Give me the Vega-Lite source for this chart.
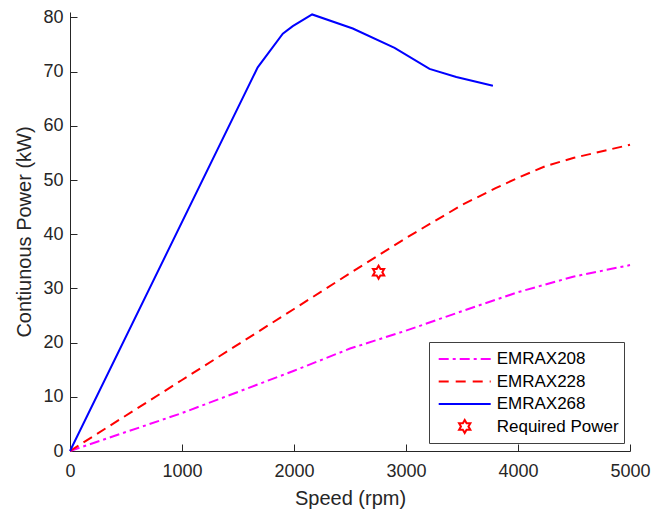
{
  "$schema": "https://vega.github.io/schema/vega-lite/v6.json",
  "width": 560,
  "height": 439,
  "autosize": {"type": "none"},
  "padding": {"left": 70, "top": 12, "right": 21, "bottom": 63},
  "background": "white",
  "config": {
    "view": {"stroke": null},
    "font": "Liberation Sans",
    "axis": {
      "grid": false,
      "domainColor": "#262626",
      "domainWidth": 1,
      "tickColor": "#262626",
      "tickWidth": 1,
      "labelFont": "Liberation Sans",
      "labelFontSize": 18,
      "labelColor": "#262626",
      "labelFlush": false,
      "labelOverlap": false,
      "titleFont": "Liberation Sans",
      "titleFontSize": 20,
      "titleFontWeight": "normal",
      "titleColor": "#262626"
    },
    "legend": {
      "labelFont": "Liberation Sans",
      "labelFontSize": 17,
      "labelColor": "#000000"
    }
  },
  "data": {
    "values": [
      {"series": "EMRAX208", "rpm": 0, "kW": 0},
      {"series": "EMRAX208", "rpm": 1000, "kW": 7.0},
      {"series": "EMRAX208", "rpm": 2000, "kW": 14.8},
      {"series": "EMRAX208", "rpm": 2500, "kW": 18.9},
      {"series": "EMRAX208", "rpm": 3000, "kW": 22.2},
      {"series": "EMRAX208", "rpm": 3500, "kW": 25.8},
      {"series": "EMRAX208", "rpm": 4000, "kW": 29.3},
      {"series": "EMRAX208", "rpm": 4500, "kW": 32.2},
      {"series": "EMRAX208", "rpm": 5000, "kW": 34.3},
      {"series": "EMRAX228", "rpm": 0, "kW": 0},
      {"series": "EMRAX228", "rpm": 1000, "kW": 13.1},
      {"series": "EMRAX228", "rpm": 2000, "kW": 26.2},
      {"series": "EMRAX228", "rpm": 2500, "kW": 32.8},
      {"series": "EMRAX228", "rpm": 3000, "kW": 39.3},
      {"series": "EMRAX228", "rpm": 3500, "kW": 45.4},
      {"series": "EMRAX228", "rpm": 3800, "kW": 48.5},
      {"series": "EMRAX228", "rpm": 4000, "kW": 50.4},
      {"series": "EMRAX228", "rpm": 4250, "kW": 52.6},
      {"series": "EMRAX228", "rpm": 4500, "kW": 54.1},
      {"series": "EMRAX228", "rpm": 5000, "kW": 56.5},
      {"series": "EMRAX268", "rpm": 0, "kW": 0},
      {"series": "EMRAX268", "rpm": 1676, "kW": 70.8},
      {"series": "EMRAX268", "rpm": 1900, "kW": 77.0},
      {"series": "EMRAX268", "rpm": 1989, "kW": 78.4},
      {"series": "EMRAX268", "rpm": 2162, "kW": 80.55},
      {"series": "EMRAX268", "rpm": 2525, "kW": 77.95},
      {"series": "EMRAX268", "rpm": 2898, "kW": 74.4},
      {"series": "EMRAX268", "rpm": 3210, "kW": 70.5},
      {"series": "EMRAX268", "rpm": 3449, "kW": 69.0},
      {"series": "EMRAX268", "rpm": 3776, "kW": 67.4},
      {"series": "Required Power", "rpm": 2755, "kW": 33.0}
    ]
  },
  "encoding": {
    "x": {
      "field": "rpm", "type": "quantitative",
      "scale": {"domain": [0, 5000], "nice": false},
      "axis": {"values": [0, 1000, 2000, 3000, 4000, 5000], "format": "d", "title": "Speed (rpm)", "tickSize": -7, "labelPadding": 18, "titlePadding": 8}
    },
    "y": {
      "field": "kW", "type": "quantitative",
      "scale": {"domain": [0, 81], "nice": false},
      "axis": {"values": [0, 10, 20, 30, 40, 50, 60, 70, 80], "format": "d", "title": "Contiunous Power (kW)", "tickSize": -7, "labelPadding": 14, "titlePadding": 8}
    }
  },
  "layer": [
    {
      "transform": [{"filter": "datum.series === 'EMRAX208'"}],
      "mark": {"type": "line", "strokeWidth": 2, "color": "#ff00ff", "strokeDash": [10, 4, 3, 4]}
    },
    {
      "transform": [{"filter": "datum.series === 'EMRAX228'"}],
      "mark": {"type": "line", "strokeWidth": 2, "color": "#ff0000", "strokeDash": [10, 6]}
    },
    {
      "transform": [{"filter": "datum.series === 'EMRAX268'"}],
      "mark": {"type": "line", "strokeWidth": 2, "color": "#0000ff"}
    },
    {
      "transform": [{"filter": "datum.series === 'Required Power'"}],
      "mark": {"type": "point", "filled": false, "strokeWidth": 2, "size": 484, "opacity": 1},
      "encoding": {
        "color": {
          "field": "series", "type": "nominal",
          "scale": {"domain": ["EMRAX208", "EMRAX228", "EMRAX268", "Required Power"], "range": ["#ff00ff", "#ff0000", "#0000ff", "#ff0000"]},
          "legend": {
            "title": null,
            "orient": "none",
            "legendX": 359,
            "legendY": 330,
            "strokeColor": "#404040",
            "fillColor": "white",
            "padding": 5,
            "symbolSize": 484,
            "symbolStrokeWidth": 2,
            "symbolOffset": 18.7,
            "labelOffset": 20,
            "rowPadding": 2.5
          }
        },
        "shape": {
          "field": "series", "type": "nominal",
          "scale": {"domain": ["EMRAX208", "EMRAX228", "EMRAX268", "Required Power"], "range": ["M-2.364,0L2.364,0", "M-2.364,0L2.364,0", "M-2.364,0L2.364,0", "M0,-0.591L0.1706,-0.2955L0.5117,-0.2955L0.3412,0L0.5117,0.2955L0.1706,0.2955L0,0.591L-0.1706,0.2955L-0.5117,0.2955L-0.3412,0L-0.5117,-0.2955L-0.1706,-0.2955Z"]}
        },
        "strokeDash": {
          "field": "series", "type": "nominal",
          "scale": {"domain": ["EMRAX208", "EMRAX228", "EMRAX268", "Required Power"], "range": [[10, 4, 3, 4], [10, 7], [1, 0], [1, 0]]}
        }
      }
    }
  ]
}
